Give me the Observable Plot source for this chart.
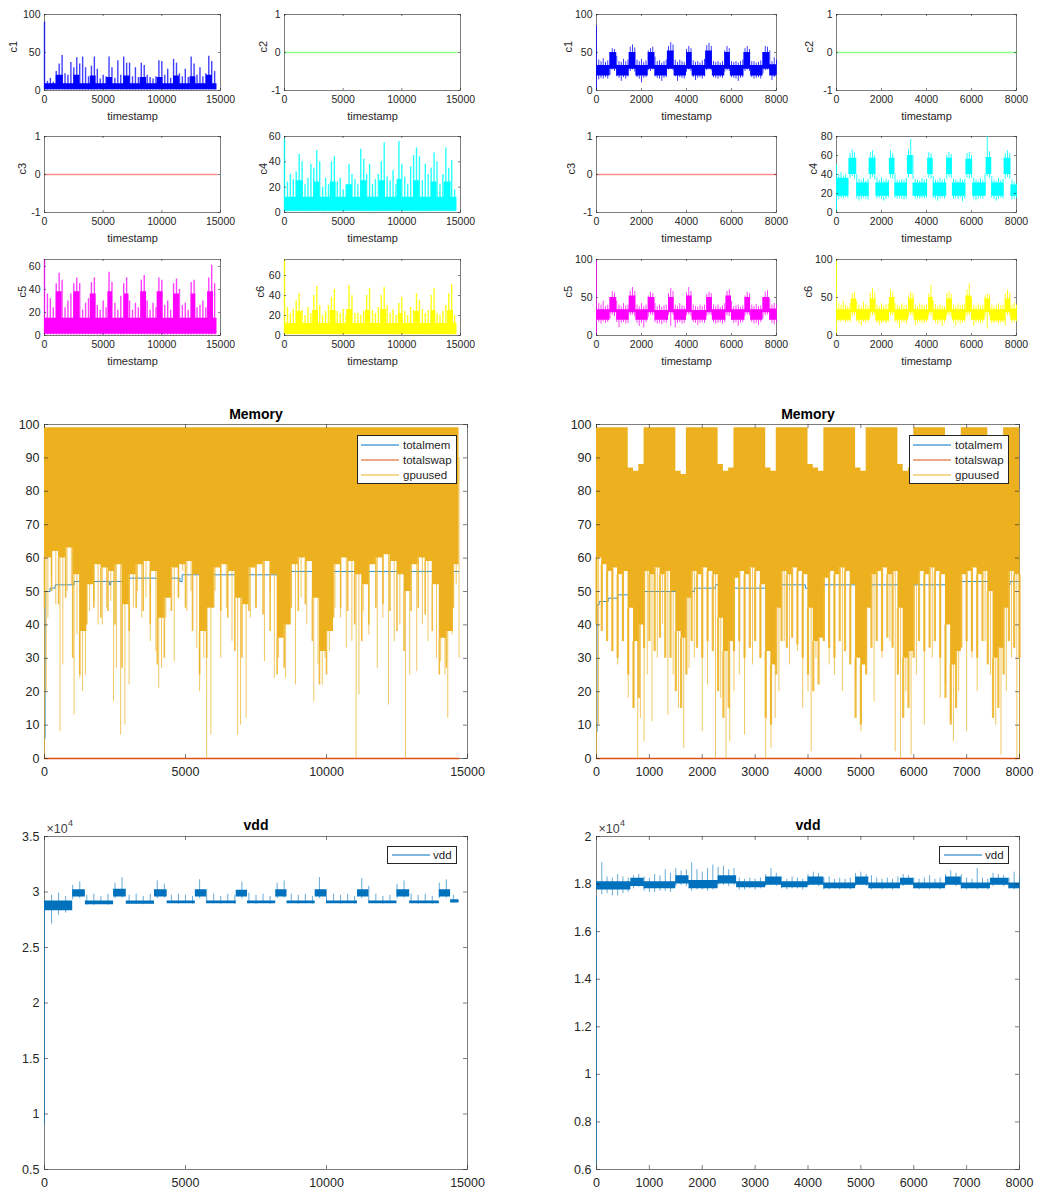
<!DOCTYPE html>
<html>
<head>
<meta charset="utf-8">
<script src="https://cdn.jsdelivr.net/npm/d3@7"></script>
<script src="https://cdn.jsdelivr.net/npm/@observablehq/plot@0.6"></script>
<style>
  body { margin: 0; background: #fff; }
  #fig { position: relative; width: 1037px; height: 1193px; overflow: hidden;
         font-family: "Liberation Sans", Arial, Helvetica, sans-serif; }
  .legend { position: absolute; }
</style>
</head>
<body>
<div id="fig"></div>
<script>
// ---------------- axes & ticks ----------------
const leftEnd = 14700, rightEnd = 8000;
const stepLeft = 250, stepRight = 100;          // sampling of the envelope series
const xTicksLeft = [0, 5000, 10000, 15000];
const xTicksRight = [0, 2000, 4000, 6000, 8000];
const memXTicksRight = [0, 1000, 2000, 3000, 4000, 5000, 6000, 7000, 8000];
const memYTicks = [0, 10, 20, 30, 40, 50, 60, 70, 80, 90, 100];
const vddYTicksLeft = [5000, 10000, 15000, 20000, 25000, 30000, 35000];
const vddYTicksRight = [6000, 8000, 10000, 12000, 14000, 16000, 18000, 20000];

// ---------------- channels, run 1 (0..14700) ----------------
// dense core: [timestamp, low, high]; peaks: one value every stepLeft from 0
const c1LeftCore = [[0,1,9],[1000,1,20],[1600,1,9],[2500,1,20],[3000,1,9],[3900,1,19],[4400,1,9],[5300,1,17],[5800,1,9],[6750,1,19],[7300,1,9],[8150,1,17],[8700,1,9],[9600,1,17],[10100,1,9],[11000,1,19],[11500,1,9],[12400,1,18],[12900,1,9],[13800,1,20],[14300,1,9]];
const c1LeftPeaks = [90,12,16,11,25,35,46,22,20,37, 30,43,35,44,30,18,32,44,28,15, 20,18,44,30,16,39,20,44,36,36, 18,30,17,36,33,20,17,15,18,39, 38,20,28,16,41,36,22,18,28,17, 44,35,20,30,18,22,45,38,25];
const c2LeftVals = [[0,0],[14700,0]];
const c3LeftVals = [[0,0],[14700,0]];
const c4LeftCore = [[0,1,12],[1000,1,25],[1600,1,12],[2500,1,24],[3000,1,12],[3900,1,24],[4400,1,12],[5300,1,22],[5800,1,12],[6500,1,25],[7000,1,12],[8100,1,25],[8600,1,12],[9600,1,26],[10000,1,12],[11000,1,25],[11500,1,12],[12500,1,24],[13000,1,12],[13600,1,24],[14200,1,12]];
const c4LeftPeaks = [58,24,30,26,32,46,40,22,27,38, 35,49,40,20,27,22,40,44,24,27, 18,22,38,30,26,22,50,42,30,38, 22,26,30,40,55,28,25,33,22,56, 38,28,22,36,45,51,44,25,38,30, 35,47,40,22,30,51,35,41,18];
const c5LeftCore = [[0,1,15],[1000,1,38],[1500,1,15],[2500,1,38],[3000,1,15],[3900,1,36],[4400,1,15],[5400,1,38],[5800,1,15],[6800,1,36],[7200,1,15],[8200,1,38],[8700,1,15],[9600,1,38],[10100,1,15],[11000,1,36],[11500,1,15],[12500,1,36],[12900,1,15],[13900,1,38],[14400,1,15]];
const c5LeftPeaks = [66,36,32,24,45,54,48,24,30,36, 45,50,45,22,28,32,46,50,26,22, 30,24,55,46,28,22,34,45,50,30, 22,28,24,48,52,30,22,28,24,50, 48,26,30,22,45,49,40,26,28,22, 46,48,24,26,30,24,50,61,45];
const c6LeftCore = [[0,1,12],[1000,1,24],[1500,1,12],[2400,1,25],[2900,1,12],[3900,1,25],[4400,1,12],[5300,1,26],[5800,1,12],[6900,1,25],[7300,1,12],[8200,1,26],[8700,1,12],[9700,1,22],[10100,1,12],[11100,1,24],[11500,1,12],[12500,1,25],[12900,1,12],[13900,1,25],[14400,1,12]];
const c6LeftPeaks = [76,28,22,26,35,42,25,20,28,22, 40,49,30,20,24,30,38,46,24,22, 26,20,50,40,22,22,20,24,40,47, 25,22,28,40,48,30,22,26,20,32, 38,24,20,28,25,42,35,26,22,25, 40,47,22,20,24,30,42,51,20];

// ---------------- channels, run 2 (0..8000) ----------------
// peaks / troughs: one value every stepRight from 0
const c1RightCore = [[0,19,33],[600,28,50],[900,19,33],[1450,28,50],[1750,19,33],[2300,28,50],[2600,19,33],[3150,28,52],[3450,19,33],[4000,28,50],[4250,19,33],[4850,28,52],[5150,19,33],[5700,28,50],[5950,19,33],[6550,28,50],[6850,19,33],[7400,28,50],[7700,19,34]];
const c1RightPeaks = [85,40,38,42,37,39,50,55,54,45, 38,37,41,38,40,57,60,56,40,38, 41,37,39,52,55,57,44,38,39,36, 38,40,58,63,60,40,37,40,38,37, 54,58,55,39,37,38,36,39,41,59, 62,58,38,37,38,36,38,52,58,55, 38,37,38,36,38,40,55,58,54,38, 38,36,37,39,50,58,57,52,38,43, 40];
const c1RightTroughs = [0,14,16,15,17,15,20,27,25,18, 16,12,17,15,18,25,27,24,17,15, 10,16,17,26,25,27,18,16,15,12, 16,17,27,28,26,18,12,17,16,15, 24,27,25,17,13,16,17,15,18,26, 28,26,17,16,15,17,16,24,26,25, 17,16,15,12,16,17,25,27,25,17, 15,16,17,15,22,26,27,25,13,17, 20];
const c2RightVals = [[0,0],[8000,0]];
const c3RightVals = [[0,0],[8000,0]];
const c4RightCore = [[0,17,36],[550,40,57],[900,17,31],[1450,40,57],[1750,17,31],[2350,40,57],[2600,17,31],[3150,40,60],[3400,17,31],[4050,40,57],[4300,17,31],[4900,40,57],[5150,17,31],[5750,40,56],[6050,17,31],[6650,40,58],[6900,17,31],[7450,40,57],[7750,17,29]];
const c4RightPeaks = [50,40,42,38,40,36,62,66,63,40, 35,34,36,33,35,63,65,60,36,34, 37,33,35,34,65,62,40,34,33,35, 34,36,66,77,60,35,34,33,36,34, 35,63,62,38,34,33,36,34,35,60, 63,61,35,34,33,36,34,35,62,63, 60,36,34,33,36,34,40,80,64,38, 34,33,36,34,35,62,65,62,34,32, 30];
const c4RightTroughs = [0,14,15,14,16,15,36,38,35,14, 12,14,15,14,13,35,37,34,14,15, 14,12,14,15,36,35,15,14,15,14, 13,14,36,40,35,14,15,14,15,14, 15,36,35,15,14,12,14,15,14,35, 37,36,14,15,14,15,11,14,36,35, 36,14,12,14,15,14,20,38,36,15, 14,12,14,15,14,35,37,35,13,14, 15];
const c5RightCore = [[0,20,34],[600,30,50],[900,20,34],[1450,30,52],[1750,20,34],[2300,30,50],[2600,20,33],[3200,30,50],[3450,20,34],[4000,30,52],[4250,20,33],[4900,30,50],[5150,20,34],[5750,30,52],[6000,20,34],[6600,30,50],[6850,20,34],[7400,30,50],[7700,20,35]];
const c5RightPeaks = [100,42,40,45,38,40,50,58,56,45, 40,38,42,39,40,58,63,58,40,38, 42,38,40,52,57,55,42,38,40,37, 39,40,55,62,58,40,38,42,39,38, 56,63,58,40,38,37,40,38,40,54, 57,55,40,38,40,37,39,42,58,60, 45,38,39,40,37,39,52,57,55,40, 38,41,38,39,50,57,59,48,40,42, 40];
const c5RightTroughs = [0,17,15,18,16,17,22,27,25,17, 10,16,17,15,16,26,27,25,16,12, 16,10,17,24,27,26,17,15,16,14, 17,16,26,12,27,10,16,17,15,16, 26,27,25,17,16,13,16,17,16,25, 27,26,17,15,16,17,15,17,26,25, 20,16,17,12,16,17,25,27,26,17, 15,16,13,17,22,26,27,20,16,14, 17];
const c6RightCore = [[0,20,34],[650,30,48],[900,20,34],[1500,30,48],[1750,19,34],[2350,30,50],[2600,20,34],[3200,30,48],[3450,20,34],[4100,30,50],[4300,20,34],[4900,30,48],[5150,20,34],[5750,30,52],[6000,20,34],[6600,30,48],[6850,19,34],[7500,30,48],[7750,20,35]];
const c6RightPeaks = [100,42,40,45,40,38,42,55,57,45, 40,38,44,40,39,55,62,56,40,38, 42,39,40,41,60,57,42,40,38,42, 39,40,52,57,55,40,38,42,40,39, 40,55,66,45,40,38,40,39,38,55, 57,54,40,38,42,39,40,41,60,68, 50,40,38,42,39,40,52,55,53,40, 38,40,42,39,40,55,60,55,40,43, 40];
const c6RightTroughs = [0,18,17,19,16,18,17,24,26,18, 15,12,17,16,18,24,26,25,16,13, 16,17,15,17,25,26,17,15,10,16, 17,15,24,26,25,13,16,17,15,16, 17,25,26,20,16,15,17,12,16,25, 26,24,16,12,17,15,16,17,25,26, 22,12,16,17,15,16,24,8,25,15, 16,17,15,16,17,13,26,25,16,17, 18];

// ---------------- memory ----------------
const totalmemLeft = [[0,6],[20,50],[200,51],[380,52],[1050,53],[2300,52],[2350,53],[2860,54],[4800,53],[4880,55],[8600,56],[14700,56]];
const totalswapLeft = [[0,0],[14700,0]];
const gpuLeftTop = 99;
const gpuLeftSolid = [60,62,60,63,55,38,52,58,57,56, 58,46,55,58,59,56,42,48,57,58, 59,55,38,45,57,58,56,48,46,57, 58,59,55,36,40,58,60,59,48,32, 38,58,60,59,55,52,58,60,61,59, 55,50,58,60,59,52,36,38,58];
const gpuLeftFringe = [45,50,46,48,30,25,40,45,42,44, 40,27,38,45,44,40,28,30,44,48, 45,38,25,30,45,44,42,32,30,44, 45,43,38,25,27,45,44,46,35,22, 25,42,45,44,40,35,40,45,46,44, 38,32,44,45,43,38,25,27,45];
const gpuLeftDips = [[0,0],[60,20],[120,42],[250,55],[400,46],[550,8],[650,28],[800,50],[950,52],[1050,13],[1150,37],[1250,24],[1350,20],[1450,25],[1600,44],[1750,47],[1900,40],[2050,40],[2200,45],[2350,47],[2450,17],[2550,27],[2700,7],[2850,10],[3000,22],[3150,45],[3300,50],[3450,42],[3600,48],[3750,35],[3950,32],[4050,21],[4150,27],[4300,42],[4450,52],[4600,29],[4750,48],[4900,56],[5050,44],[5200,50],[5400,33],[5500,20],[5650,30],[5750,0],[5900,7],[6050,50],[6250,30],[6450,45],[6650,35],[6850,7],[6950,10],[7150,12],[7300,42],[7500,45],[7800,29],[8000,50],[8150,24],[8300,30],[8450,37],[8550,24],[8700,48],[8900,22],[9100,48],[9300,40],[9550,17],[9700,28],[9850,22],[9950,30],[10100,32],[10300,45],[10500,42],[10700,33],[10900,35],[11050,0],[11150,19],[11300,44],[11500,37],[11800,27],[12000,42],[12200,16],[12400,35],[12600,40],[12800,0],[12950,25],[13200,26],[13400,40],[13600,35],[13900,30],[14050,29],[14200,25],[14300,12],[14450,37],[14600,52],[14700,30]];

const totalmemRight = [[0,8],[10,46],[50,47],[220,48],[400,49],[860,50],[1850,51],[2250,52],[2560,51],[3200,52],[3950,51],[4250,52],[6650,53],[7750,52],[7820,53],[8000,53]];
const totalswapRight = [[0,0],[8000,0]];
const gpuRightTop = [99,99,99,99,99,99,87,86,88,99, 99,99,99,99,99,86,85,99,99,99, 99,99,99,88,86,87,99,99,99,99, 99,99,87,86,99,99,99,99,99,99, 88,87,86,99,99,99,99,99,99,87, 86,99,99,99,99,99,99,88,86,87, 99,99,99,99,99,99,87,86,88,99, 99,99,99,99,88,86,87,99,99,99, 99];
const gpuRightSolid = [60,58,56,57,55,56,45,35,40,56, 55,57,55,56,50,38,36,48,56,55, 57,56,55,42,32,35,54,56,55,57, 56,52,32,28,45,56,55,57,56,55, 45,35,36,54,56,55,57,56,52,30, 28,45,55,56,57,55,56,45,30,32, 52,56,55,57,56,55,40,28,32,55, 56,57,55,56,50,30,33,45,56,55, 55];
const gpuRightFringe = [40,38,35,32,30,35,25,15,18,33, 35,32,36,30,30,20,15,25,35,33, 30,35,32,20,12,15,32,35,30,33, 35,30,12,10,25,35,33,36,34,30, 25,20,22,35,33,30,35,32,28,12, 10,25,33,35,32,36,33,25,12,15, 30,35,32,33,35,30,18,10,15,33, 35,32,30,35,28,12,15,25,35,33, 30];
const gpuRightDips = [[0,0],[40,10],[100,45],[200,50],[300,32],[400,28],[500,35],[600,18],[700,15],[780,0],[830,12],[900,5],[960,25],[1050,11],[1150,30],[1250,40],[1350,13],[1450,25],[1550,15],[1650,3],[1750,27],[1850,30],[2000,8],[2100,22],[2250,0],[2350,18],[2450,0],[2520,5],[2600,20],[2700,25],[2800,7],[2950,28],[3100,30],[3200,0],[3300,3],[3380,12],[3450,20],[3550,35],[3650,28],[3800,32],[3900,15],[4000,20],[4060,2],[4150,30],[4300,35],[4400,28],[4500,25],[4650,20],[4800,30],[4900,23],[5000,8],[5100,30],[5250,17],[5400,30],[5550,35],[5650,2],[5750,0],[5850,20],[5950,1],[6050,25],[6200,10],[6350,30],[6500,18],[6600,22],[6700,12],[6750,5],[6850,20],[7000,8],[7100,30],[7200,20],[7350,35],[7450,25],[7550,10],[7650,1],[7750,20],[7850,30],[7950,0],[8000,0]];

// ---------------- vdd ----------------
const vddLeftCore = [[0,28300,29200],[1000,29550,30200],[1450,28850,29200],[2450,29550,30250],[2900,28900,29200],[3900,29550,30200],[4350,28950,29200],[5350,29550,30200],[5750,28950,29200],[6800,29550,30150],[7200,28950,29200],[8200,29550,30200],[8600,28950,29200],[9600,29550,30200],[10000,28950,29200],[11100,29550,30200],[11500,28950,29200],[12500,29550,30200],[12950,28950,29200],[14000,29550,30200],[14400,29000,29300]];
const vddLeftPeaks = [28500,29700,29900,29600,30600,30900,29700,29800,29600,29800, 30800,31300,29700,29800,29600,29800,31000,30700,29700,29800, 29700,29600,31100,30200,29800,29600,29800,29700,30900,29900, 29700,29800,29600,30800,31000,29800,29700,29800,29600,31300, 30200,29800,29700,29800,29600,31200,30500,29800,29600,29700, 30700,31000,29800,29700,29800,29600,30800,31100,29700];
const vddLeftTroughs = [9000,27100,27900,28100,29300,29400,28800,28800,28850,28800, 29400,29450,28900,28900,28850,28900,29400,29450,28950,28900, 28950,28900,29400,29000,28950,28900,28950,28900,29400,28950, 28900,28950,28900,29400,29450,28950,28900,28950,28900,29400, 29000,28950,28900,28950,28900,29400,29100,28950,28900,28950, 29400,29450,28950,28900,28950,28900,29400,29450,29000];
const vddRightCore = [[0,17750,18100],[650,17900,18250],[900,17800,18100],[1500,18000,18350],[1750,17800,18150],[2300,18000,18350],[2650,17850,18100],[3200,17950,18300],[3500,17850,18100],[4000,17950,18300],[4300,17800,18050],[4900,17950,18300],[5150,17800,18050],[5750,17950,18250],[6000,17800,18050],[6600,17950,18300],[6900,17800,18050],[7450,17950,18250],[7800,17800,18050]];
const vddRightPeaks = [17500,18900,18300,18250,18400,18300,18250,18350,18400,18300, 18250,18400,18350,18600,18450,18650,18550,18600,18900,18600, 18500,18650,18800,18700,18750,18600,18650,18250,18200,18250, 18200,18250,18400,18650,18450,18300,18200,18300,18250,18200, 18400,18500,18450,18250,18300,18200,18250,18200,18250,18450, 18500,18400,18350,18250,18200,18250,18200,18300,18400,18350, 18250,18200,18250,18350,18200,18250,18400,18550,18450,18400, 18250,18200,18650,18250,18200,18450,18400,18350,18250,18500, 18250];
const vddRightTroughs = [6200,17550,17600,17500,17500,17600,17650,17800,17850,17700, 17650,17650,17700,17700,17650,17900,17950,17900,17700,17750, 17750,17700,17750,17950,17950,17900,17950,17750,17750,17800, 17750,17800,17900,17950,17900,17800,17750,17800,17800,17750, 17900,17950,17900,17750,17750,17800,17750,17800,17750,17900, 17950,17900,17750,17800,17750,17800,17750,17800,17900,17950, 17800,17750,17800,17750,17800,17750,17900,17950,17900,17800, 17750,17800,17750,17800,17750,17900,17950,17900,17800,17750, 17800];

// ---------------- drawing ----------------
const FONT = '"Liberation Sans", Arial, Helvetica, sans-serif';
const INK = "#262626";
const BLUE = "#0072bd", ORANGE = "#d95319", GOLD = "#edb120";
const ML = 60, MT = 30, MR = 14, MB = 40;
const fig = document.getElementById("fig");

// extend a step series of [x, lo, hi] rows to its last timestamp
const closeStep = (rows, end) => [...rows, [end, ...rows[rows.length - 1].slice(1)]];
const at = (v, i) => Array.isArray(v) ? v[i] : v;

// filled step band from evenly sampled lower / upper bounds
function sampledArea(lo, hi, n, step, end, opts) {
  const rows = d3.range(n).map(i => [i * step, at(lo, i), at(hi, i)]);
  return Plot.areaY(closeStep(rows, end), {x: d => d[0], y1: d => d[1], y2: d => d[2], curve: "step-after", ...opts});
}

// vertical trace from trough to peak at every sample
function envelope(peaks, troughs, step, color, opacity, width = 1) {
  return Plot.ruleX(d3.range(peaks.length), {
    x: i => i * step, y1: i => at(troughs, i), y2: i => peaks[i],
    stroke: color, strokeWidth: width, strokeOpacity: opacity
  });
}

function band(core, end, peaks, troughs, step, color, opacity = 0.75, width = 1) {
  return [
    Plot.areaY(closeStep(core, end), {x: d => d[0], y1: d => d[1], y2: d => d[2], curve: "step-after", fill: color}),
    envelope(peaks, troughs, step, color, opacity, width)
  ];
}

function panel(o) {
  const [bx, by, bw, bh] = o.box;
  const [x0, x1] = o.xDomain, [y0, y1] = o.yDomain;
  const ky = o.tickLen * (y1 - y0) / bh, kx = o.tickLen * (x1 - x0) / bw;
  const ink = {stroke: INK, strokeOpacity: 0.6, strokeWidth: 1};
  const marks = [
    Plot.frame(ink),
    ...o.marks,
    Plot.ruleX(o.xTicks, {x: d => d, y1: y0, y2: y0 + ky, ...ink}),
    Plot.ruleX(o.xTicks, {x: d => d, y1: y1 - ky, y2: y1, ...ink}),
    Plot.ruleY(o.yTicks, {y: d => d, x1: x0, x2: x0 + kx, ...ink}),
    Plot.ruleY(o.yTicks, {y: d => d, x1: x1 - kx, x2: x1, ...ink}),
    Plot.axisX(o.xTicks, {anchor: "bottom", tickSize: 0, tickPadding: o.padX, label: null, fontSize: o.font, tickFormat: d => String(d)}),
    Plot.axisY(o.yTicks, {anchor: "left", tickSize: 0, tickPadding: o.padY, label: null, fontSize: o.font, tickFormat: o.yFormat ?? (d => String(d))})
  ];
  if (o.xLabel) marks.push(Plot.text([o.xLabel], {frameAnchor: "bottom", dy: o.xLabelDy, text: d => d, fontSize: o.labelFont, lineAnchor: "middle"}));
  if (o.yLabel) marks.push(Plot.text([o.yLabel], {frameAnchor: "left", dx: o.yLabelDx, text: d => d, rotate: -90, fontSize: o.labelFont, lineAnchor: "middle"}));
  if (o.title) marks.push(Plot.text([o.title], {frameAnchor: "top", dy: o.titleDy, text: d => d, fontSize: 14, fontWeight: "bold", fill: "#000", lineAnchor: "middle"}));
  if (o.exponent) marks.push(
    Plot.text(["×10"], {frameAnchor: "top-left", dx: 2, dy: -8, text: d => d, textAnchor: "start", fontSize: 12.5, fill: "#404040", lineAnchor: "middle"}),
    Plot.text([o.exponent], {frameAnchor: "top-left", dx: 23.5, dy: -13, text: d => d, textAnchor: "start", fontSize: 9, fill: "#404040", lineAnchor: "middle"})
  );
  const chart = Plot.plot({
    width: bw + ML + MR, height: bh + MT + MB,
    marginLeft: ML, marginTop: MT, marginRight: MR, marginBottom: MB,
    x: {domain: o.xDomain}, y: {domain: o.yDomain},
    style: {background: "transparent", fontFamily: FONT, color: INK, overflow: "visible"},
    marks
  });
  chart.style.position = "absolute";
  chart.style.left = (bx - ML) + "px";
  chart.style.top = (by - MT) + "px";
  fig.append(chart);
}

function legend(left, top, w, h, entries, lx0, lx1, tx, ry0, rstep) {
  const svg = d3.create("svg").attr("width", w + 1).attr("height", h + 1)
    .attr("class", "legend").style("left", left + "px").style("top", top + "px");
  svg.append("rect").attr("x", 0.5).attr("y", 0.5).attr("width", w).attr("height", h)
    .attr("fill", "#fff").attr("stroke", INK).attr("stroke-width", 1);
  entries.forEach(([label, color], i) => {
    const y = Math.round(ry0 + i * rstep);
    svg.append("line").attr("x1", lx0).attr("x2", lx1).attr("y1", y).attr("y2", y)
      .attr("stroke", color).attr("stroke-width", 1);
    svg.append("text").attr("x", tx).attr("y", y).attr("dy", "0.35em")
      .attr("font-family", FONT).attr("font-size", 11.5).attr("fill", INK).text(label);
  });
  fig.append(svg.node());
}

// ---- small channel panels ----
const small = {font: 10.5, labelFont: 11, padX: 5, padY: 4, tickLen: 2, xLabel: "timestamp", xLabelDy: 26};
const zeroLine = (vals, color) => [Plot.lineY(vals, {x: d => d[0], y: d => d[1], stroke: color, strokeWidth: 1.5, strokeOpacity: 0.45})];
const rows = [14, 136, 259];
const leftSpec = {xDomain: [0, 15000], xTicks: xTicksLeft};
const rightSpec = {xDomain: [0, 8000], xTicks: xTicksRight};

// run 1
panel({...small, ...leftSpec, box: [44, rows[0], 176, 76], yDomain: [0, 100], yTicks: [0, 50, 100], yLabel: "c1", yLabelDx: -31,
  marks: band(c1LeftCore, leftEnd, c1LeftPeaks, 0.5, stepLeft, "#0000ff", 0.75, 1.4)});
panel({...small, ...leftSpec, box: [284, rows[0], 176, 76], yDomain: [-1, 1], yTicks: [-1, 0, 1], yLabel: "c2", yLabelDx: -21,
  marks: zeroLine(c2LeftVals, "#00ff00")});
panel({...small, ...leftSpec, box: [44, rows[1], 176, 76], yDomain: [-1, 1], yTicks: [-1, 0, 1], yLabel: "c3", yLabelDx: -22,
  marks: zeroLine(c3LeftVals, "#ff0000")});
panel({...small, ...leftSpec, box: [284, rows[1], 176, 76], yDomain: [0, 60], yTicks: [0, 20, 40, 60], yLabel: "c4", yLabelDx: -21,
  marks: band(c4LeftCore, leftEnd, c4LeftPeaks, 0.5, stepLeft, "#00ffff", 0.85, 1.4)});
panel({...small, ...leftSpec, box: [44, rows[2], 176, 76], yDomain: [0, 66], yTicks: [0, 20, 40, 60], yLabel: "c5", yLabelDx: -22,
  marks: band(c5LeftCore, leftEnd, c5LeftPeaks, 0.5, stepLeft, "#ff00ff", 0.75, 1.4)});
panel({...small, ...leftSpec, box: [284, rows[2], 176, 76], yDomain: [0, 76], yTicks: [0, 20, 40, 60], yLabel: "c6", yLabelDx: -24,
  marks: band(c6LeftCore, leftEnd, c6LeftPeaks, 0.5, stepLeft, "#ffff00", 0.9, 1.4)});

// run 2
panel({...small, ...rightSpec, box: [596, rows[0], 180, 76], yDomain: [0, 100], yTicks: [0, 50, 100], yLabel: "c1", yLabelDx: -28,
  marks: band(c1RightCore, rightEnd, c1RightPeaks, c1RightTroughs, stepRight, "#0000ff")});
panel({...small, ...rightSpec, box: [836, rows[0], 180, 76], yDomain: [-1, 1], yTicks: [-1, 0, 1], yLabel: "c2", yLabelDx: -27,
  marks: zeroLine(c2RightVals, "#00ff00")});
panel({...small, ...rightSpec, box: [596, rows[1], 180, 76], yDomain: [-1, 1], yTicks: [-1, 0, 1], yLabel: "c3", yLabelDx: -25,
  marks: zeroLine(c3RightVals, "#ff0000")});
panel({...small, ...rightSpec, box: [836, rows[1], 180, 76], yDomain: [0, 80], yTicks: [0, 20, 40, 60, 80], yLabel: "c4", yLabelDx: -23,
  marks: band(c4RightCore, rightEnd, c4RightPeaks, c4RightTroughs, stepRight, "#00ffff", 0.85)});
panel({...small, ...rightSpec, box: [596, rows[2], 180, 76], yDomain: [0, 100], yTicks: [0, 50, 100], yLabel: "c5", yLabelDx: -28,
  marks: band(c5RightCore, rightEnd, c5RightPeaks, c5RightTroughs, stepRight, "#ff00ff")});
panel({...small, ...rightSpec, box: [836, rows[2], 180, 76], yDomain: [0, 100], yTicks: [0, 50, 100], yLabel: "c6", yLabelDx: -28,
  marks: band(c6RightCore, rightEnd, c6RightPeaks, c6RightTroughs, stepRight, "#ffff00", 0.9)});

// ---- memory panels ----
const big = {font: 12.5, padX: 9, padY: 5, tickLen: 4, titleDy: -10};

function memoryMarks({step, end, top, solid, fringe, dips, dipTop, mem, swap, width}) {
  const n = solid.length;
  return [
    Plot.lineY(mem, {x: d => d[0], y: d => d[1], curve: "step-after", stroke: BLUE, strokeWidth: 1, strokeOpacity: 0.8}),
    Plot.lineY(swap, {x: d => d[0], y: d => d[1], stroke: ORANGE, strokeWidth: 1.5}),
    envelope(fringe, solid, step, GOLD, 0.85, width),
    sampledArea(solid, top, n, step, end, {fill: GOLD}),
    Plot.ruleX(dips, {x: d => d[0], y1: d => d[1], y2: dipTop, stroke: GOLD, strokeWidth: 1, strokeOpacity: 0.7})
  ];
}

panel({...big, box: [44, 424, 423, 334], xDomain: [0, 15000], xTicks: xTicksLeft, yDomain: [0, 100], yTicks: memYTicks, title: "Memory",
  marks: memoryMarks({step: stepLeft, end: leftEnd, top: gpuLeftTop, solid: gpuLeftSolid, fringe: gpuLeftFringe, dips: gpuLeftDips, dipTop: 90, mem: totalmemLeft, swap: totalswapLeft, width: 1.6})});
panel({...big, box: [596, 424, 423, 334], xDomain: [0, 8000], xTicks: memXTicksRight, yDomain: [0, 100], yTicks: memYTicks, title: "Memory",
  marks: memoryMarks({step: stepRight, end: rightEnd, top: gpuRightTop, solid: gpuRightSolid, fringe: gpuRightFringe, dips: gpuRightDips, dipTop: 80, mem: totalmemRight, swap: totalswapRight, width: 2.2})});

const memEntries = [["totalmem", BLUE], ["totalswap", ORANGE], ["gpuused", GOLD]];
legend(357, 435, 99, 48, memEntries, 4, 42, 46, 10, 15);
legend(909, 435, 99, 48, memEntries, 4, 42, 46, 10, 15);

// ---- vdd panels ----
const vddFmt = d => String(d / 1e4);
panel({...big, box: [44, 836, 423, 333], xDomain: [0, 15000], xTicks: xTicksLeft, yDomain: [5000, 35000], yTicks: vddYTicksLeft, yFormat: vddFmt,
  title: "vdd", titleDy: -11, exponent: "4",
  marks: band(vddLeftCore, leftEnd, vddLeftPeaks, vddLeftTroughs, stepLeft, BLUE, 0.6)});
panel({...big, box: [596, 836, 423, 333], xDomain: [0, 8000], xTicks: memXTicksRight, yDomain: [6000, 20000], yTicks: vddYTicksRight, yFormat: vddFmt,
  title: "vdd", titleDy: -11, exponent: "4",
  marks: band(vddRightCore, rightEnd, vddRightPeaks, vddRightTroughs, stepRight, BLUE, 0.6)});

legend(387, 846, 69, 17, [["vdd", BLUE]], 5, 43, 46, 9, 0);
legend(939, 846, 69, 17, [["vdd", BLUE]], 5, 43, 46, 9, 0);
</script>
</body>
</html>
